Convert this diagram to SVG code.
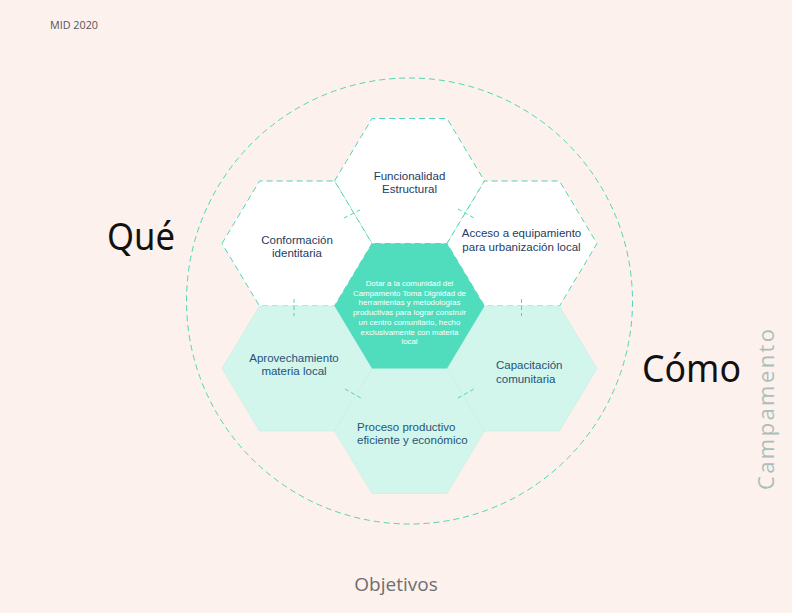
<svg xmlns="http://www.w3.org/2000/svg" width="792" height="613" viewBox="0 0 792 613">
<style>
.bg{fill:#FDF1EE}
.hw{fill:#FFFFFF;stroke:#4FD6B5;stroke-width:1;stroke-dasharray:6 4}
.hm{fill:#D2F5EC;stroke:#C6EFE4;stroke-width:0.6}
.hc{fill:#4FDDBD}
.ring{fill:none;stroke:#4FD6B5;stroke-width:1;stroke-dasharray:6 4}
.tick{stroke:#4FD6B5;stroke-width:1;stroke-dasharray:4 3;fill:none}
.lbl{font-family:"Liberation Sans",Arial,sans-serif;font-size:11.5px;fill:#1C3C66}
.lbl2{font-family:"Liberation Sans",Arial,sans-serif;font-size:11.5px;fill:#245478}
.ctr{font-family:"Liberation Sans",Arial,sans-serif;font-size:7.9px;fill:#FFFFFF;text-anchor:middle}
.big{font-family:"Noto Sans","Open Sans",sans-serif;font-size:38px;fill:#111111}
</style>
<rect class="bg" x="0" y="0" width="792" height="613"/>
<text x="50" y="29" font-family="'Open Sans','Noto Sans',sans-serif" font-size="11" fill="#555555" textLength="48" lengthAdjust="spacingAndGlyphs">MID 2020</text>
<circle class="ring" cx="409.5" cy="301" r="223"/>
<g id="hex-funcionalidad">
<polygon class="hw" points="334.5,181 372,118.5 447,118.5 484.5,181 447,243.5 372,243.5"/>
<text class="lbl" x="409.5" y="180" text-anchor="middle">Funcionalidad</text>
<text class="lbl" x="409.5" y="193" text-anchor="middle">Estructural</text>
</g>
<g id="hex-conformacion">
<polygon class="hw" points="222,243.5 259.5,181 334.5,181 372,243.5 334.5,306 259.5,306"/>
<text class="lbl" x="297" y="244" text-anchor="middle">Conformación</text>
<text class="lbl" x="297" y="257" text-anchor="middle">identitaria</text>
</g>
<g id="hex-acceso">
<polygon class="hw" points="447,243.5 484.5,181 559.5,181 597,243.5 559.5,306 484.5,306"/>
<text class="lbl" x="521.5" y="237" text-anchor="middle">Acceso a equipamiento</text>
<text class="lbl" x="521.5" y="251" text-anchor="middle">para urbanización local</text>
</g>
<g id="hex-aprovechamiento">
<polygon class="hm" points="222,368.5 259.5,306 334.5,306 372,368.5 334.5,431 259.5,431"/>
<text class="lbl2" x="294" y="362" text-anchor="middle">Aprovechamiento</text>
<text class="lbl2" x="294" y="375" text-anchor="middle">materia local</text>
</g>
<g id="hex-capacitacion">
<polygon class="hm" points="447,368.5 484.5,306 559.5,306 597,368.5 559.5,431 484.5,431"/>
<text class="lbl2" x="496" y="369">Capacitación</text>
<text class="lbl2" x="496" y="383">comunitaria</text>
</g>
<g id="hex-proceso">
<polygon class="hm" points="334.5,431 372,368.5 447,368.5 484.5,431 447,493.5 372,493.5"/>
<text class="lbl2" x="357" y="431">Proceso productivo</text>
<text class="lbl2" x="357" y="444">eficiente y económico</text>
</g>
<g id="hex-centro">
<polygon class="hc" points="334.5,306 372,243.5 447,243.5 484.5,306 447,368.5 372,368.5"/>
<text class="ctr" x="409.5" y="286">Dotar a la comunidad del</text>
<text class="ctr" x="409.5" y="295.7">Campamento Toma Dignidad de</text>
<text class="ctr" x="409.5" y="305.4">herramientas y metodologías</text>
<text class="ctr" x="409.5" y="315.1">productivas para lograr construir</text>
<text class="ctr" x="409.5" y="324.8">un centro comunitario, hecho</text>
<text class="ctr" x="409.5" y="334.5">exclusivamente con materia</text>
<text class="ctr" x="409.5" y="344.2">local</text>
</g>
<g id="connectors">
<line class="tick" x1="294" y1="299" x2="294" y2="316"/>
<line class="tick" x1="521.5" y1="299" x2="521.5" y2="316"/>
<line class="tick" x1="344" y1="218" x2="362" y2="209"/>
<line class="tick" x1="458" y1="209" x2="474" y2="218"/>
<line class="tick" x1="345" y1="389" x2="361" y2="398"/>
<line class="tick" x1="458" y1="398" x2="474" y2="389"/>
</g>
<text class="big" x="107" y="250" textLength="68" lengthAdjust="spacingAndGlyphs">Qué</text>
<text class="big" x="642" y="382" textLength="99" lengthAdjust="spacingAndGlyphs">Cómo</text>
<text transform="translate(774,490) rotate(-90)" font-family="'Open Sans','Noto Sans',sans-serif" font-size="22" fill="#ABBFBA" letter-spacing="3" textLength="164">Campamento</text>
<text x="396" y="591" text-anchor="middle" font-family="'Open Sans','Noto Sans',sans-serif" font-size="19" fill="#6E6E6E">Objetivos</text>
</svg>
